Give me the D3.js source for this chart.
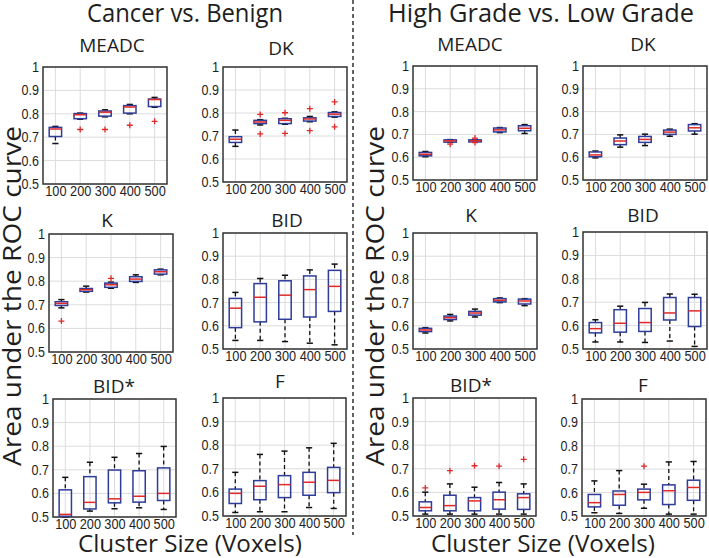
<!DOCTYPE html>
<html><head><meta charset="utf-8">
<script src="https://cdn.jsdelivr.net/npm/d3@7"></script>
<style>
html,body{margin:0;padding:0;background:#fff;}
svg{display:block;font-family:"Open Sans","Noto Sans",sans-serif;}
</style></head>
<body><svg id="chart" width="709" height="558"></svg>
<script>
// ---------- DATA ----------
const categories = ["100", "200", "300", "400", "500"];
const yTicks = [0.5, 0.6, 0.7, 0.8, 0.9, 1];
const yTickLabels = ["0.5", "0.6", "0.7", "0.8", "0.9", "1"];
const groupTitles = ["Cancer vs. Benign", "High Grade vs. Low Grade"];
const panelTitles = ["MEADC", "DK", "K", "BID", "BID*", "F"];
const yAxisTitle = "Area under the ROC curve";
const xAxisTitle = "Cluster Size (Voxels)";

// each box: [lower whisker, Q1, median, Q3, upper whisker]
// Cancer vs. Benign
const cbMEADC = [[0.673,0.703,0.735,0.742,0.746],[0.777,0.779,0.796,0.801,0.803],[0.787,0.790,0.807,0.812,0.817],[0.800,0.803,0.829,0.835,0.840],[0.828,0.831,0.861,0.863,0.870]];
const cbMEADCOut = [[],[0.733],[0.733],[0.751],[0.768]];
const cbDK = [[0.655,0.672,0.686,0.697,0.726],[0.748,0.754,0.761,0.768,0.771],[0.751,0.754,0.768,0.775,0.777],[0.762,0.765,0.774,0.779,0.785],[0.782,0.785,0.795,0.802,0.805]];
const cbDKOut = [[],[0.794,0.709],[0.801,0.711],[0.819,0.723],[0.848,0.740]];
const cbK = [[0.687,0.697,0.706,0.713,0.722],[0.754,0.757,0.764,0.769,0.779],[0.770,0.774,0.785,0.792,0.796],[0.795,0.799,0.809,0.819,0.827],[0.827,0.830,0.840,0.848,0.851]];
const cbKOut = [[0.631],[],[0.812],[],[]];
const cbBID = [[0.537,0.592,0.676,0.718,0.744],[0.537,0.617,0.723,0.782,0.804],[0.532,0.628,0.732,0.794,0.818],[0.525,0.638,0.756,0.815,0.841],[0.518,0.662,0.770,0.839,0.866]];
const cbBIDOut = [[],[],[],[],[]];
const cbBIDs = [[0.501,0.503,0.511,0.615,0.668],[0.525,0.534,0.562,0.671,0.732],[0.535,0.560,0.577,0.699,0.753],[0.539,0.563,0.588,0.696,0.769],[0.532,0.570,0.600,0.708,0.799]];
const cbBIDsOut = [[],[],[],[],[]];
const cbF = [[0.515,0.553,0.596,0.614,0.685],[0.518,0.569,0.626,0.650,0.761],[0.518,0.578,0.633,0.671,0.775],[0.536,0.588,0.643,0.685,0.789],[0.532,0.599,0.651,0.706,0.808]];
const cbFOut = [[],[],[],[],[]];
// High Grade vs. Low Grade
const hgMEADC = [[0.602,0.606,0.613,0.621,0.625],[0.665,0.666,0.672,0.676,0.677],[0.666,0.667,0.672,0.676,0.677],[0.708,0.711,0.720,0.728,0.730],[0.704,0.716,0.727,0.738,0.743]];
const hgMEADCOut = [[],[0.657],[0.684,0.664],[],[]];
const hgDK = [[0.597,0.602,0.610,0.623,0.627],[0.644,0.655,0.671,0.684,0.698],[0.651,0.665,0.678,0.691,0.701],[0.692,0.700,0.710,0.719,0.723],[0.701,0.715,0.729,0.743,0.747]];
const hgDKOut = [[],[],[],[],[]];
const hgK = [[0.569,0.575,0.582,0.589,0.592],[0.621,0.627,0.635,0.642,0.649],[0.638,0.646,0.655,0.662,0.672],[0.700,0.703,0.710,0.717,0.720],[0.687,0.694,0.707,0.715,0.717]];
const hgKOut = [[],[],[],[],[]];
const hgBID = [[0.530,0.569,0.587,0.613,0.625],[0.530,0.572,0.610,0.668,0.683],[0.528,0.575,0.613,0.673,0.699],[0.534,0.624,0.654,0.720,0.735],[0.511,0.596,0.663,0.720,0.734]];
const hgBIDOut = [[],[],[],[],[]];
const hgBIDs = [[0.508,0.522,0.536,0.560,0.601],[0.508,0.522,0.544,0.588,0.636],[0.508,0.522,0.564,0.578,0.622],[0.508,0.529,0.569,0.601,0.642],[0.508,0.528,0.578,0.594,0.636]];
const hgBIDsOut = [[0.619],[0.692],[0.713],[0.711],[0.740]];
const hgF = [[0.514,0.539,0.557,0.592,0.650],[0.511,0.546,0.592,0.607,0.694],[0.533,0.569,0.601,0.615,0.636],[0.508,0.549,0.608,0.633,0.731],[0.508,0.567,0.622,0.653,0.733]];
const hgFOut = [[],[],[0.713],[],[]];

// ---------- LAYOUT ----------
const panels = [
  {t:0, d:cbMEADC, o:cbMEADCOut, x:43,  y:67,  w:124, h:117, tx:112, ty:52},
  {t:1, d:cbDK,    o:cbDKOut,    x:223, y:67,  w:124, h:115, tx:281, ty:55},
  {t:2, d:cbK,     o:cbKOut,     x:49,  y:234, w:124, h:118, tx:107, ty:227},
  {t:3, d:cbBID,   o:cbBIDOut,   x:223, y:233, w:124, h:116, tx:287, ty:227},
  {t:4, d:cbBIDs,  o:cbBIDsOut,  x:53,  y:399, w:123, h:118, tx:114, ty:393},
  {t:5, d:cbF,     o:cbFOut,     x:223, y:398, w:123, h:118, tx:280, ty:388},
  {t:0, d:hgMEADC, o:hgMEADCOut, x:413, y:66,  w:124, h:114, tx:470, ty:51},
  {t:1, d:hgDK,    o:hgDKOut,    x:583, y:66,  w:124, h:114, tx:643, ty:51},
  {t:2, d:hgK,     o:hgKOut,     x:413, y:233, w:124, h:116, tx:471, ty:222},
  {t:3, d:hgBID,   o:hgBIDOut,   x:583, y:232, w:124, h:117, tx:643, ty:222},
  {t:4, d:hgBIDs,  o:hgBIDsOut,  x:413, y:398, w:123, h:118, tx:471, ty:392},
  {t:5, d:hgF,     o:hgFOut,     x:582, y:399, w:124, h:117, tx:643, ty:392}
];

const svg = d3.select("#chart");
const BLUE = "#2f3c9a", RED = "#e02a2a", INK = "#1e1e1e";
const numLen = s => s.replace(/[^0-9]/g,"").length*7.1 + s.replace(/[^.]/g,"").length*3.2;

// divider
svg.append("line").attr("x1",353).attr("x2",353).attr("y1",0).attr("y2",535)
  .attr("stroke","#222").attr("stroke-width",1.4).attr("stroke-dasharray","4,3");

// group titles
svg.append("text").attr("x",185).attr("y",22).attr("text-anchor","middle")
  .attr("font-size",25).attr("fill",INK).attr("textLength",196).attr("lengthAdjust","spacingAndGlyphs")
  .text(groupTitles[0]);
svg.append("text").attr("x",541).attr("y",22).attr("text-anchor","middle")
  .attr("font-size",25).attr("fill",INK).attr("textLength",306).attr("lengthAdjust","spacingAndGlyphs")
  .text(groupTitles[1]);

// y-axis titles
[21, 384].forEach(xx => {
  svg.append("text").attr("transform",`translate(${xx},296) rotate(-90)`)
    .attr("text-anchor","middle").attr("font-size",25).attr("fill",INK)
    .attr("textLength",340).attr("lengthAdjust","spacingAndGlyphs")
    .text(yAxisTitle);
});
// x-axis titles
[190, 543].forEach(xx => {
  svg.append("text").attr("x",xx).attr("y",552).attr("text-anchor","middle")
    .attr("font-size",24).attr("fill",INK)
    .attr("textLength",224).attr("lengthAdjust","spacingAndGlyphs")
    .text(xAxisTitle);
});

const plus = (g, cx, cy) => {
  g.append("path").attr("d",`M${cx-3},${cy}H${cx+3}M${cx},${cy-3}V${cy+3}`)
    .attr("stroke",RED).attr("stroke-width",1.3);
};

panels.forEach(p => {
  const x = d3.scalePoint().domain(categories).range([p.x, p.x+p.w]).padding(0.5);
  const y = d3.scaleLinear().domain([0.5,1]).range([p.y+p.h, p.y]);
  const g = svg.append("g");
  const step = x.step();
  // grid
  g.selectAll(".gy").data(yTicks).join("line")
    .attr("x1",p.x).attr("x2",p.x+p.w).attr("y1",d=>y(d)).attr("y2",d=>y(d))
    .attr("stroke","#dcdcdc").attr("stroke-width",1);
  g.selectAll(".gx").data(categories).join("line")
    .attr("x1",d=>x(d)).attr("x2",d=>x(d)).attr("y1",p.y).attr("y2",p.y+p.h)
    .attr("stroke","#dcdcdc").attr("stroke-width",1);
  // axes
  const ya = d3.axisLeft(y).tickValues(yTicks).tickFormat((d,i)=>yTickLabels[i]).tickSize(0).tickPadding(4);
  const ag = g.append("g").attr("transform",`translate(${p.x},0)`).call(ya);
  ag.select(".domain").remove();
  ag.selectAll("text").attr("font-size",14).attr("fill",INK).attr("font-family","inherit")
    .attr("textLength",d=>numLen(yTickLabels[yTicks.indexOf(d)])).attr("lengthAdjust","spacingAndGlyphs");
  const xa = d3.axisBottom(x).tickSize(0).tickPadding(2);
  const xg = g.append("g").attr("transform",`translate(0,${p.y+p.h})`).call(xa);
  xg.select(".domain").remove();
  xg.selectAll("text").attr("font-size",14).attr("fill",INK).attr("font-family","inherit")
    .attr("textLength",d=>numLen(d)).attr("lengthAdjust","spacingAndGlyphs");
  // frame
  g.append("rect").attr("x",p.x).attr("y",p.y).attr("width",p.w).attr("height",p.h)
    .attr("fill","none").attr("stroke","#333").attr("stroke-width",1.5);
  // title
  g.append("text").attr("x",p.tx).attr("y",p.ty).attr("text-anchor","middle")
    .attr("font-size",19).attr("fill",INK).text(panelTitles[p.t]);
  // boxes
  const bw = step*0.5;
  p.d.forEach((b,i) => {
    const cx = x(categories[i]);
    const [lo,q1,md,q3,hi] = b;
    g.append("line").attr("x1",cx).attr("x2",cx).attr("y1",y(hi)).attr("y2",y(q3))
      .attr("stroke","#111").attr("stroke-width",1.3).attr("stroke-dasharray","4,3");
    g.append("line").attr("x1",cx).attr("x2",cx).attr("y1",y(q1)).attr("y2",y(lo))
      .attr("stroke","#111").attr("stroke-width",1.3).attr("stroke-dasharray","4,3");
    [lo,hi].forEach(v => g.append("line").attr("x1",cx-bw/4).attr("x2",cx+bw/4)
      .attr("y1",y(v)).attr("y2",y(v)).attr("stroke","#111").attr("stroke-width",1.5));
    g.append("rect").attr("x",cx-bw/2).attr("y",y(q3)).attr("width",bw)
      .attr("height",Math.max(0.5,y(q1)-y(q3))).attr("fill","none")
      .attr("stroke",BLUE).attr("stroke-width",1.5);
    g.append("line").attr("x1",cx-bw/2).attr("x2",cx+bw/2).attr("y1",y(md)).attr("y2",y(md))
      .attr("stroke",RED).attr("stroke-width",1.5);
    p.o[i].forEach(v => plus(g, cx, y(v)));
  });
});
</script></body></html>
